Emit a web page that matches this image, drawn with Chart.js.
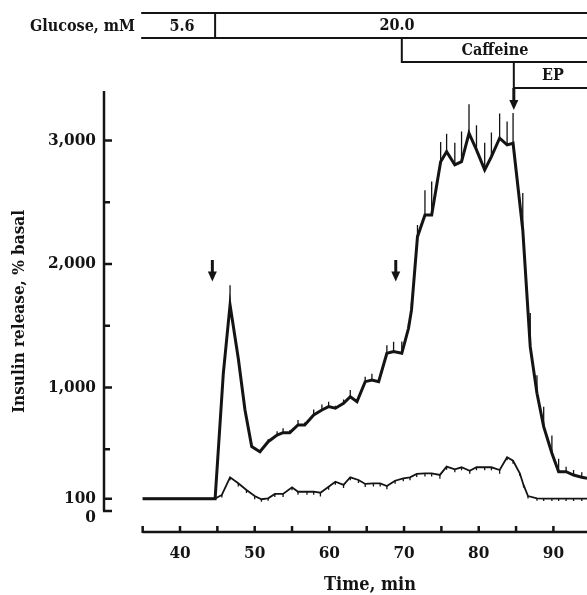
<!DOCTYPE html>
<html>
<head>
<meta charset="utf-8">
<script src="https://cdn.jsdelivr.net/npm/chart.js@4.4.0/dist/chart.umd.min.js"></script>
<style>
  html, body { margin: 0; padding: 0; background: #fff; }
</style>
</head>
<body>
<canvas id="myChart" width="587" height="595"></canvas>
<script>
// upper trace: caffeine + EP perifusion (time in min, insulin in % basal, SEM up)
const upperTimes = [35, 36, 37, 38, 39, 40, 41, 42, 43, 44, 44.7,
  45.8, 46.7, 47.8, 48.7, 49.6, 50.7, 51.8, 53.0, 53.8, 54.7,
  55.8, 56.7, 57.9, 59.0, 59.9, 60.8, 61.9, 62.8, 63.7, 64.8,
  65.7, 66.6, 67.7, 68.6, 69.7, 70.6, 71.0, 71.8, 72.8, 73.7,
  74.9, 75.7, 76.8, 77.7, 78.7, 79.7, 80.8, 81.7, 82.8, 83.8,
  84.6, 85.9, 86.9, 87.8, 88.7, 89.8, 90.7, 91.7, 92.7, 93.8, 94.5];
const upperValues = [100, 100, 100, 100, 100, 100, 100, 100, 100, 100, 100,
  1115, 1668, 1236, 818, 521, 480, 561, 615, 634, 634,
  696, 696, 777, 818, 845, 832, 872, 925, 885, 1047,
  1061, 1047, 1277, 1290, 1277, 1479, 1628, 2221, 2397, 2397,
  2828, 2909, 2802, 2828, 3058, 2923, 2761, 2869, 3018, 2964,
  2977, 2275, 1328, 953, 683, 467, 318, 318, 291, 273, 265];
const upperErrors = [0, 0, 0, 0, 0, 0, 0, 0, 0, 0, 0,
  30, 160, 20, 20, 0, 0, 20, 30, 35, 20,
  40, 20, 45, 45, 40, 20, 30, 55, 20, 40,
  50, 20, 65, 80, 95, 40, 60, 95, 200, 270,
  160, 145, 180, 245, 235, 200, 220, 195, 200, 190,
  245, 300, 275, 145, 160, 145, 105, 40, 40, 40, 0];

// lower trace: glucose alone (SEM down)
const lowerTimes = [35, 36, 37, 38, 39, 40, 41, 42, 43, 44, 44.7,
  45.6, 46.7, 47.8, 48.9, 50.0, 50.9, 51.8, 52.7, 53.8, 55.0,
  55.8, 57.0, 57.9, 58.8, 59.9, 60.8, 61.9, 62.8, 63.9, 64.8,
  65.9, 66.8, 67.7, 68.8, 69.9, 70.8, 71.7, 72.8, 73.7, 74.8,
  75.7, 76.8, 77.7, 78.8, 79.7, 80.8, 81.7, 82.8, 83.8, 84.6,
  85.5, 86.0, 86.6, 87.8, 88.7, 89.8, 90.7, 91.7, 92.7, 93.8, 94.5];
const lowerValues = [100, 100, 100, 100, 100, 100, 100, 100, 100, 100, 100,
  130, 273, 224, 170, 121, 95, 103, 138, 138, 192,
  156, 156, 156, 148, 197, 237, 211, 273, 251, 219,
  224, 224, 202, 245, 265, 273, 300, 305, 305, 292,
  359, 338, 354, 326, 354, 354, 354, 332, 435, 407,
  305, 211, 121, 103, 100, 100, 100, 100, 100, 100, 100];
const lowerErrors = [0, 0, 0, 0, 0, 0, 0, 0, 0, 0, 0,
  20, 25, 25, 25, 25, 20, 20, 25, 25, 25,
  25, 25, 25, 30, 25, 25, 25, 25, 25, 25,
  25, 25, 25, 25, 25, 25, 25, 25, 25, 30,
  25, 25, 25, 25, 25, 25, 25, 30, 25, 25,
  20, 20, 20, 20, 20, 20, 20, 20, 20, 20, 0];

const xTickLabels = [40, 50, 60, 70, 80, 90];
const xTickMarks = [35, 40, 45, 50, 55, 60, 65, 70, 75, 80, 85, 90];
const yTickLabels = [100, 1000, 2000, 3000];
const yTickMarks = [0, 100, 500, 1000, 1500, 2000, 2500, 3000];

// treatment schedule (min)
const glucoseSteps = [34.8, 44.7];
const glucoseLabels = ['5.6', '20.0'];
const caffeineStart = 69.7;
const epStart = 84.7;
const arrowTimes = [44.33, 68.89];

const ink = '#141414';
const serif = "'DejaVu Serif Condensed', 'DejaVu Serif', serif";
Chart.defaults.font.family = serif;
Chart.defaults.font.weight = 'bold';
Chart.defaults.color = ink;

function pts(ts, vs) {
  return ts.map((t, i) => ({ x: t, y: vs[i] }));
}

const decor = {
  id: 'decor',
  afterDatasetsDraw(chart) {
    const { ctx, scales: { x, y } } = chart;
    ctx.save();
    ctx.strokeStyle = ink;
    ctx.lineWidth = 1.3;
    ctx.beginPath();
    upperTimes.forEach((t, i) => {
      if (!upperErrors[i]) return;
      const px = x.getPixelForValue(t);
      ctx.moveTo(px, y.getPixelForValue(upperValues[i]));
      ctx.lineTo(px, y.getPixelForValue(upperValues[i] + upperErrors[i]));
    });
    lowerTimes.forEach((t, i) => {
      if (!lowerErrors[i]) return;
      const px = x.getPixelForValue(t);
      ctx.moveTo(px, y.getPixelForValue(lowerValues[i]));
      ctx.lineTo(px, y.getPixelForValue(lowerValues[i] - lowerErrors[i]));
    });
    ctx.stroke();
    ctx.restore();
  },
  afterDraw(chart) {
    const { ctx, chartArea, scales: { x, y } } = chart;
    const W = chart.width;
    ctx.save();
    ctx.strokeStyle = ink;
    ctx.fillStyle = ink;
    ctx.lineCap = 'butt';

    // axes
    ctx.lineWidth = 2.5;
    const axY = chartArea.bottom;
    const ax0 = x.getPixelForValue(35);
    ctx.beginPath();
    ctx.moveTo(ax0, axY);
    ctx.lineTo(W, axY);
    xTickMarks.forEach(v => {
      const px = x.getPixelForValue(v);
      ctx.moveTo(px, axY + 1);
      ctx.lineTo(px, axY - 6);
    });
    const yx = chartArea.left;
    ctx.moveTo(yx, chartArea.top);
    ctx.lineTo(yx, y.getPixelForValue(0));
    yTickMarks.forEach(v => {
      const py = y.getPixelForValue(v);
      const len = yTickLabels.includes(v) || v === 0 ? 8 : 6;
      ctx.moveTo(yx - 1, py);
      ctx.lineTo(yx + len, py);
    });
    ctx.stroke();

    ctx.font = 'bold 17px ' + serif;
    ctx.textAlign = 'right';
    ctx.textBaseline = 'middle';
    ctx.fillText('0', yx - 8, y.getPixelForValue(0) + 7);

    ctx.textAlign = 'center';
    ctx.font = 'bold 18px ' + serif;
    ctx.fillText('Time, min', 370, 585);

    // arrows
    const drawArrow = (px, top, tip) => {
      ctx.lineWidth = 3;
      ctx.beginPath();
      ctx.moveTo(px, top);
      ctx.lineTo(px, tip - 8);
      ctx.stroke();
      ctx.beginPath();
      ctx.moveTo(px - 4.5, tip - 10);
      ctx.lineTo(px + 4.5, tip - 10);
      ctx.lineTo(px, tip);
      ctx.closePath();
      ctx.fill();
    };
    arrowTimes.forEach(t => {
      drawArrow(x.getPixelForValue(t), y.getPixelForValue(2032), y.getPixelForValue(1857));
    });

    // treatment bars
    const rTop = 13, rGlu = 38, rCaf = 62, rEP = 88;
    const g0 = x.getPixelForValue(glucoseSteps[0]);
    const g1 = x.getPixelForValue(glucoseSteps[1]);
    const cx = x.getPixelForValue(caffeineStart);
    const ex = x.getPixelForValue(epStart);
    ctx.lineWidth = 2;
    ctx.beginPath();
    ctx.moveTo(g0, rTop); ctx.lineTo(W, rTop);
    ctx.moveTo(g0, rGlu); ctx.lineTo(W, rGlu);
    ctx.moveTo(g1, rTop); ctx.lineTo(g1, rGlu);
    ctx.moveTo(cx, rGlu); ctx.lineTo(cx, rCaf); ctx.lineTo(W, rCaf);
    ctx.moveTo(ex, rCaf); ctx.lineTo(ex, rEP); ctx.lineTo(W, rEP);
    ctx.stroke();
    drawArrow(ex, rEP, 110);

    ctx.font = 'bold 16px ' + serif;
    ctx.textAlign = 'right';
    ctx.fillText('Glucose, mM', 135, 27);
    ctx.textAlign = 'center';
    ctx.fillText(glucoseLabels[0], 182, 27);
    ctx.fillText(glucoseLabels[1], 397, 26);
    ctx.fillText('Caffeine', 495, 51);
    ctx.fillText('EP', 553, 76);
    ctx.restore();
  }
};

new Chart(document.getElementById('myChart'), {
  type: 'line',
  data: {
    datasets: [
      {
        label: 'Caffeine + EP',
        data: pts(upperTimes, upperValues),
        borderColor: ink,
        borderWidth: 3,
        pointRadius: 0,
        tension: 0
      },
      {
        label: 'Glucose',
        data: pts(lowerTimes, lowerValues),
        borderColor: ink,
        borderWidth: 1.8,
        pointRadius: 0,
        tension: 0
      }
    ]
  },
  options: {
    responsive: false,
    animation: false,
    layout: { padding: { top: 91, left: 0, right: 0, bottom: 0 } },
    plugins: {
      legend: { display: false },
      tooltip: { enabled: false }
    },
    scales: {
      x: {
        type: 'linear',
        min: 29.82,
        max: 94.5,
        afterBuildTicks: s => { s.ticks = xTickLabels.map(v => ({ value: v })); },
        afterFit: s => { s.height = 63; },
        grid: { display: false, drawTicks: false },
        border: { display: false },
        ticks: { padding: 11, maxRotation: 0, autoSkip: false, font: { size: 17 } }
      },
      y: {
        min: -170,
        max: 3400,
        afterBuildTicks: s => { s.ticks = yTickLabels.map(v => ({ value: v })); },
        afterFit: s => { s.width = 104; },
        grid: { display: false, drawTicks: false },
        border: { display: false },
        ticks: {
          padding: 8,
          autoSkip: false,
          font: { size: 17 },
          callback: v => v.toLocaleString('en-US')
        },
        title: {
          display: true,
          text: 'Insulin release, % basal',
          font: { size: 17 },
          padding: { top: 9, bottom: 0 }
        }
      }
    }
  },
  plugins: [decor]
});
</script>
</body>
</html>
